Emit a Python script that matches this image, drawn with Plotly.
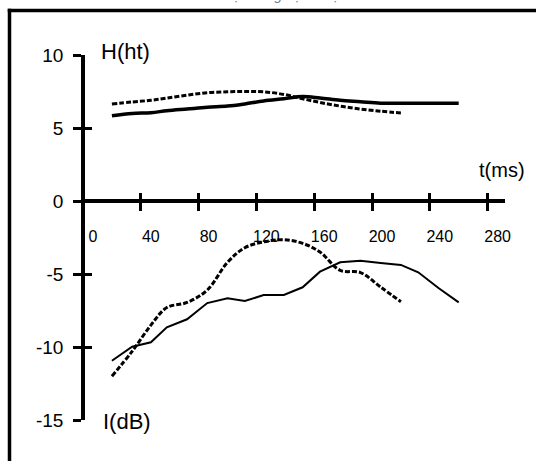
import plotly.graph_objects as go

# ---- data ----
t_solid = [20, 34, 47, 58, 72, 86, 100, 112, 125, 139, 152, 164, 178, 192, 206, 220, 232, 246, 260]
t_dash = [20, 34, 47, 58, 72, 86, 100, 112, 125, 139, 152, 164, 178, 192, 206, 220]

h_solid = [5.84, 6.0, 6.05, 6.18, 6.3, 6.42, 6.5, 6.65, 6.85, 7.0, 7.15, 7.05, 6.9, 6.8, 6.7, 6.7, 6.7, 6.7, 6.7]
h_dash = [6.64, 6.78, 6.9, 7.05, 7.25, 7.42, 7.48, 7.5, 7.48, 7.3, 7.0, 6.75, 6.5, 6.3, 6.15, 6.03]

i_solid = [-10.94, -9.98, -9.68, -8.65, -8.10, -6.99, -6.66, -6.85, -6.44, -6.44, -5.91, -4.84, -4.20, -4.09, -4.25, -4.38, -4.88, -5.96, -6.94]
i_dash = [-12.0, -10.3, -8.5, -7.3, -6.95, -6.1, -4.2, -3.2, -2.8, -2.65, -2.9, -3.5, -4.75, -4.9, -5.9, -6.9]

x_ticks = [0, 40, 80, 120, 160, 200, 240, 280]
x_labels = ["0", "40", "80", "120", "160", "200", "240", "280"]
y_ticks = [-15, -10, -5, 0, 5, 10]
y_labels = ["-15", "-10", "-5", "0", "5", "10"]

title_text = "Đồ thị cường độ và độ cao"
FONT = "Arial, Liberation Sans, sans-serif"
W, H = 536, 461
ML, MR, MT, MB = 83, 31, 55, 41
PW, PH = W - ML - MR, H - MT - MB


def px(xp):
    return (xp - ML) / PW


def py(yp):
    return (H - MB - yp) / PH


fig = go.Figure()
fig.add_trace(go.Scatter(x=t_solid, y=i_solid, mode="lines",
                         line=dict(color="black", width=2), hoverinfo="skip"))
fig.add_trace(go.Scatter(x=t_dash, y=i_dash, mode="lines", line_shape="spline",
                         line=dict(color="black", width=3, dash="5px,2px"), hoverinfo="skip"))
fig.add_trace(go.Scatter(x=t_solid, y=h_solid, mode="lines", line_shape="spline",
                         line=dict(color="black", width=3.5), hoverinfo="skip",
                         xaxis="x2", yaxis="y2"))
fig.add_trace(go.Scatter(x=t_dash, y=h_dash, mode="lines", line_shape="spline",
                         line=dict(color="black", width=3, dash="5px,2px"), hoverinfo="skip",
                         xaxis="x2", yaxis="y2"))

xr = [0, PW / 1.445]
yr = [-15, 10]
common_x = dict(range=xr, tickmode="array", tickvals=x_ticks, ticktext=x_labels,
                showgrid=False, zeroline=False,
                ticklen=8, tickwidth=3, tickcolor="black", anchor="free", position=0.6)
common_y = dict(range=yr, tickmode="array", tickvals=y_ticks, ticktext=y_labels,
                showgrid=False, zeroline=False,
                ticklen=8, tickwidth=3, tickcolor="black", anchor="free", position=0)

frame = dict(color="black", width=3.5)
fig.update_layout(
    width=W, height=H,
    margin=dict(l=ML, r=MR, t=MT, b=MB, pad=0),
    paper_bgcolor="white", plot_bgcolor="white",
    showlegend=False,
    font=dict(family=FONT, size=16, color="black"),
    xaxis=dict(**common_x, ticks="outside", showline=True, linewidth=3.5, linecolor="black",
               ticklabelshift=10, ticklabelstandoff=12, tickfont=dict(size=16)),
    yaxis=dict(**common_y, ticks="outside", showline=True, linewidth=3.5, linecolor="black",
               ticklabelstandoff=6, tickfont=dict(size=19)),
    xaxis2=dict(**common_x, overlaying="x", ticks="inside", showline=False, showticklabels=False),
    yaxis2=dict(**common_y, overlaying="y", ticks="inside", showline=False, showticklabels=False),
    shapes=[
        dict(type="line", xref="paper", yref="paper",
             x0=px(9.5), x1=px(9.5), y0=py(461), y1=py(8.75), line=frame, layer="above"),
        dict(type="line", xref="paper", yref="paper",
             x0=px(7.75), x1=px(536), y0=py(10.5), y1=py(10.5), line=frame, layer="above"),
    ],
    annotations=[
        dict(text="H(ht)", xref="paper", yref="paper", x=px(99), y=py(52),
             xanchor="left", yanchor="middle", showarrow=False, font=dict(size=22)),
        dict(text="I(dB)", xref="paper", yref="paper", x=px(101), y=py(421),
             xanchor="left", yanchor="middle", showarrow=False, font=dict(size=22)),
        dict(text="t(ms)", xref="paper", yref="paper", x=px(477), y=py(170),
             xanchor="left", yanchor="middle", showarrow=False, font=dict(size=20)),
        dict(text="<i>" + title_text + "</i>", xref="paper", yref="paper", x=px(284), y=py(5.5),
             xanchor="center", yanchor="bottom", showarrow=False,
             font=dict(size=14, color="#777777")),
    ],
)

fig.write_html("out.html")
